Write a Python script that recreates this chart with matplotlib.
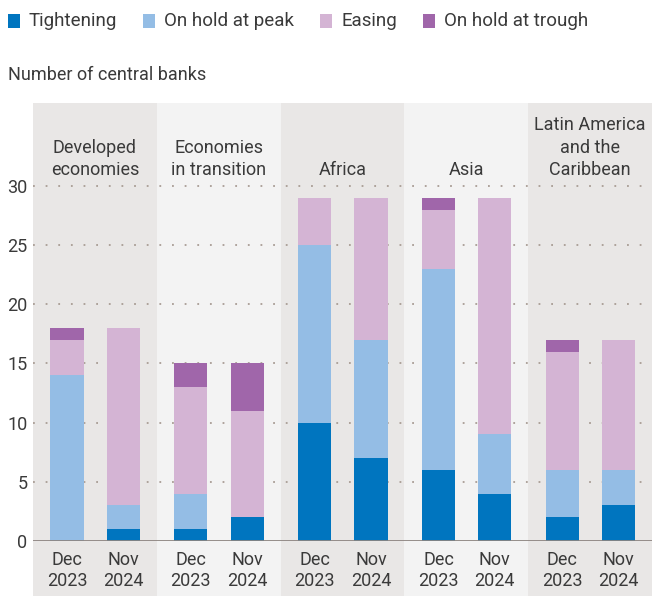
import matplotlib
matplotlib.use('Agg')
import matplotlib.pyplot as plt
from matplotlib.patches import Rectangle
import numpy as np

plt.rcParams['font.family'] = ['Roboto', 'DejaVu Sans']

regions = ["Developed\neconomies", "Economies\nin transition", "Africa", "Asia",
           "Latin America\nand the\nCaribbean"]
periods = ["Dec\n2023", "Nov\n2024"]
series = ["Tightening", "On hold at peak", "Easing", "On hold at trough"]
colors = ["#0075bf", "#94bde5", "#d4b4d4", "#a066aa"]

# per region: [Dec 2023, Nov 2024]
tightening = [[0, 1], [1, 2], [10, 7], [6, 4], [2, 3]]
hold_peak = [[14, 2], [3, 0], [15, 10], [17, 5], [4, 3]]
easing = [[3, 15], [9, 9], [4, 12], [5, 20], [10, 11]]
hold_trough = [[1, 0], [2, 4], [0, 0], [1, 0], [1, 0]]

text_color = '#3a3a3a'

fig = plt.figure(figsize=(6.52, 5.96), dpi=100)
ax = fig.add_axes([33 / 652, 55 / 596, 619 / 652, 438 / 596])
ax.set_xlim(0, 5)
ax.set_ylim(0, 37)
ax.patch.set_visible(False)
for s in ax.spines.values():
    s.set_visible(False)

# alternating panel shading
for i in range(len(regions)):
    fc = "#e9e7e6" if i % 2 == 0 else "#f3f3f3"
    ax.add_patch(Rectangle((i, -4.65), 1, 41.65, facecolor=fc, edgecolor='none',
                           zorder=0, clip_on=False))
    ax.text(i + 0.5, 30.6, regions[i], ha='center', va='bottom', fontsize=13,
            color=text_color, linespacing=1.3)

for y in range(5, 31, 5):
    ax.axhline(y, color='#a89c94', lw=1.3, ls=(0, (1, 6)), zorder=1)
ax.axhline(0, color='#8c8480', lw=2, zorder=3)

offsets = [0.275, 0.73]
width = 0.268
stack = np.array([tightening, hold_peak, easing, hold_trough], dtype=float)
xs = []
for j, off in enumerate(offsets):
    x = np.arange(len(regions)) + off
    xs.extend(x)
    bottom = np.zeros(len(regions))
    for k in range(len(series)):
        vals = stack[k][:, j]
        ax.bar(x, vals, width, bottom=bottom, color=colors[k], zorder=2, linewidth=0)
        bottom += vals

ax.set_xticks(sorted(xs))
ax.set_xticklabels(periods * len(regions), fontsize=13, color=text_color,
                   linespacing=1.2)
ax.set_yticks(range(0, 31, 5))
ax.set_yticklabels([str(v) for v in range(0, 31, 5)], fontsize=13, color=text_color)
ax.tick_params(length=0)
ax.tick_params(axis='x', pad=7)
ax.tick_params(axis='y', pad=4)

# legend, laid out left to right
renderer = fig.canvas.get_renderer()
cur = 8
for k, name in enumerate(series):
    fig.patches.append(Rectangle((cur / 652, 1 - 28 / 596), 12 / 652, 14 / 596,
                                 transform=fig.transFigure, facecolor=colors[k],
                                 edgecolor='none'))
    t = fig.text((cur + 21) / 652, 1 - 21 / 596, name, ha='left', va='center',
                 fontsize=13.5, color=text_color)
    cur = t.get_window_extent(renderer).x1 + 26

fig.text(8 / 652, 1 - 75 / 596, "Number of central banks", ha='left', va='center',
         fontsize=13, color=text_color)

fig.savefig("out.png", dpi=100)
